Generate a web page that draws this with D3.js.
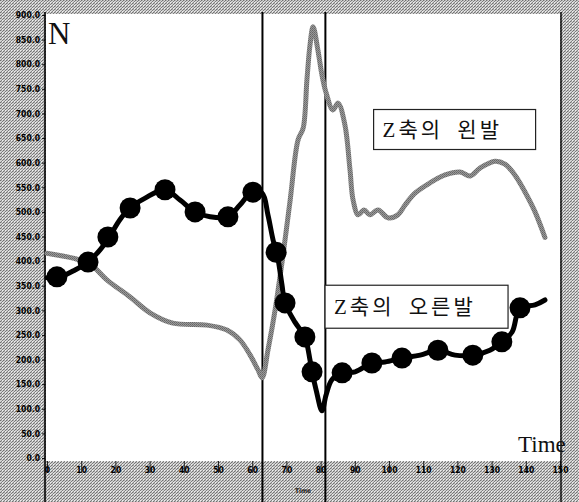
<!DOCTYPE html>
<html>
<head>
<meta charset="utf-8">
<script src="https://cdn.jsdelivr.net/npm/d3@7"></script>
<style>
  html, body { margin: 0; padding: 0; background: #fff; }
  svg { display: block; }
</style>
</head>
<body>
<svg id="chart" width="579" height="502"></svg>
<script>
// Vertical ground-reaction force (Z axis) over time, left and right foot
const leftTime  = [0, 7.6, 12.6, 17.5, 24.3, 30.1, 36.8, 46.8, 52.6, 56.4, 59.4, 61.7, 62.9, 64.6, 66.7, 69.0, 71.1, 73.4, 74.9, 76.0, 76.9, 77.8, 79.2, 80.4, 81.6, 83.6, 85.1, 87.1, 88.6, 89.5, 91.0, 92.7, 94.4, 96.8, 99.7, 102.6, 104.7, 107.6, 112.0, 116.4, 120.8, 123.7, 126.6, 131.0, 133.9, 136.8, 139.8, 142.7, 145.6];
const leftForce = [416, 406, 394, 362, 327, 295, 274, 270, 260, 240, 209, 179, 163, 219, 301, 412, 524, 646, 670, 768, 839, 876, 829, 778, 742, 707, 721, 677, 585, 524, 494, 504, 494, 504, 488, 494, 514, 538, 559, 575, 581, 573, 589, 603, 597, 575, 540, 500, 448];

const rightTime  = [0, 3.8, 8.2, 12.0, 15.5, 18.4, 21.3, 24.3, 28.7, 34.5, 38.9, 43.3, 47.7, 52.9, 56.4, 59.9, 62.9, 64.6, 66.1, 67.5, 68.7, 69.6, 72.5, 75.4, 76.9, 77.5, 78.7, 80.4, 81.6, 83.3, 86.3, 90.1, 95.0, 98.8, 103.8, 109.1, 114.3, 119.3, 124.6, 129.5, 133.0, 136.0, 138.3, 142.7, 145.6];
const rightForce = [366, 368, 382, 398, 423, 451, 484, 508, 528, 545, 524, 500, 490, 490, 514, 540, 538, 494, 443, 406, 352, 315, 276, 246, 199, 175, 138, 96, 128, 159, 173, 175, 193, 195, 203, 209, 219, 209, 209, 219, 236, 256, 305, 311, 321];

// Sample markers drawn on the right-foot curve
const markTime  = [2.9, 12.0, 17.8, 24.3, 34.5, 43.3, 52.9, 60.2, 67.0, 69.6, 75.4, 77.5, 86.3, 95.0, 103.8, 114.3, 124.5, 133.0, 138.3];
const markForce = [368, 398, 449, 508, 545, 500, 490, 540, 418, 315, 246, 175, 173, 193, 203, 219, 209, 236, 305];

// Phase boundaries
const phaseTimes = [63.0, 81.4];

const yTicks = d3.range(0, 901, 50);
const xTicks = d3.range(0, 151, 10);

const seriesLabels = [
  { text: "Z축의 왼발",  t: 95.5, v: 708, w: 162, h: 40 },
  { text: "Z축의 오른발", t: 81.3, v: 351, w: 183, h: 43 }
];

const W = 579, H = 502;
const plot = { left: 46, right: 560, top: 14, bottom: 461 };

const svg = d3.select("#chart");
const defs = svg.append("defs");

// dithered grey used for the frame and the left-foot trace
const dither = defs.append("pattern")
  .attr("id", "dither").attr("patternUnits", "userSpaceOnUse")
  .attr("width", 3).attr("height", 3);
dither.append("rect").attr("width", 3).attr("height", 3).attr("fill", "#d2d2d2");
dither.append("rect").attr("x", 0).attr("y", 0).attr("width", 1).attr("height", 1).attr("fill", "#707070");
dither.append("rect").attr("x", 2).attr("y", 1).attr("width", 1).attr("height", 1).attr("fill", "#7c7c7c");
dither.append("rect").attr("x", 1).attr("y", 2).attr("width", 1).attr("height", 1).attr("fill", "#848484");
dither.append("rect").attr("x", 1).attr("y", 0).attr("width", 1).attr("height", 1).attr("fill", "#b0b0b0");
dither.append("rect").attr("x", 2).attr("y", 2).attr("width", 1).attr("height", 1).attr("fill", "#eeeeee");

const grain = defs.append("pattern")
  .attr("id", "grain").attr("patternUnits", "userSpaceOnUse")
  .attr("width", 2).attr("height", 2);
grain.append("rect").attr("width", 2).attr("height", 2).attr("fill", "#999");
grain.append("rect").attr("width", 1).attr("height", 1).attr("fill", "#666");
grain.append("rect").attr("x", 1).attr("y", 1).attr("width", 1).attr("height", 1).attr("fill", "#747474");

// frame and white plotting area
svg.append("rect").attr("width", W).attr("height", H).attr("fill", "url(#dither)");
svg.append("rect")
  .attr("x", plot.left).attr("y", plot.top)
  .attr("width", plot.right - plot.left).attr("height", plot.bottom - plot.top)
  .attr("fill", "#fff");

const x = d3.scaleLinear().domain([0, 150]).range([47, 560]);
const y = d3.scaleLinear().domain([0, 900]).range([458, 15]);

// y axis
const yAxis = svg.append("g")
  .attr("transform", `translate(${plot.left - 1},0)`)
  .call(d3.axisLeft(y).tickValues(yTicks).tickFormat(d3.format(".1f")).tickSize(3).tickPadding(2));
yAxis.select(".domain").remove();
yAxis.selectAll("text")
  .attr("font-family", "DejaVu Sans Condensed, DejaVu Sans, sans-serif")
  .attr("font-weight", "bold").attr("font-size", 8.5).attr("fill", "#000");
yAxis.selectAll("line").attr("stroke", "#111");

// x axis
const xAxis = svg.append("g")
  .attr("transform", `translate(0,${plot.bottom})`)
  .call(d3.axisBottom(x).tickValues(xTicks).tickFormat(d3.format("d")).tickSize(12).tickPadding(-6));
xAxis.select(".domain").remove();
xAxis.selectAll("text")
  .attr("font-family", "DejaVu Sans Condensed, DejaVu Sans, sans-serif")
  .attr("font-weight", "bold").attr("font-size", 8.5).attr("fill", "#000");
xAxis.selectAll("line").attr("stroke", "#222").attr("stroke-width", 1);

// axis frame lines
svg.append("line").attr("x1", 45).attr("x2", 45).attr("y1", 12).attr("y2", H)
  .attr("stroke", "#000").attr("stroke-width", 1.6);
svg.append("line").attr("x1", 561).attr("x2", 561).attr("y1", 12).attr("y2", H)
  .attr("stroke", "#000").attr("stroke-width", 1.4);

// phase boundary lines
svg.selectAll(".phase").data(phaseTimes).enter().append("line")
  .attr("class", "phase")
  .attr("x1", d => x(d)).attr("x2", d => x(d))
  .attr("y1", 12).attr("y2", H)
  .attr("stroke", "#000").attr("stroke-width", 2);

const line = d3.line()
  .x(d => x(d[0])).y(d => y(d[1]))
  .curve(d3.curveCatmullRom.alpha(0.5));

// left foot
svg.append("path")
  .datum(d3.zip(leftTime, leftForce))
  .attr("d", line)
  .attr("fill", "none").attr("stroke", "url(#grain)")
  .attr("stroke-width", 5).attr("stroke-linejoin", "round").attr("stroke-linecap", "round");

// right foot
svg.append("path")
  .datum(d3.zip(rightTime, rightForce))
  .attr("d", line)
  .attr("fill", "none").attr("stroke", "#000")
  .attr("stroke-width", 5).attr("stroke-linejoin", "round").attr("stroke-linecap", "round");

svg.selectAll(".mark").data(d3.zip(markTime, markForce)).enter().append("circle")
  .attr("class", "mark")
  .attr("cx", d => x(d[0])).attr("cy", d => y(d[1]))
  .attr("r", 10.5).attr("fill", "#000");

// series labels in boxes
seriesLabels.forEach(s => {
  const bx = x(s.t), by = y(s.v);
  svg.append("rect")
    .attr("x", bx).attr("y", by).attr("width", s.w).attr("height", s.h)
    .attr("fill", "#fff").attr("stroke", "#222").attr("stroke-width", 1.2);
  svg.append("text")
    .attr("x", bx + 9).attr("y", by + s.h / 2 + 7)
    .attr("font-family", "Liberation Serif, Noto Sans CJK KR, serif")
    .attr("font-size", 21).attr("fill", "#111")
    .attr("letter-spacing", 3).attr("word-spacing", 6)
    .text(s.text);
});

// axis titles
svg.append("text").attr("x", 48).attr("y", 44)
  .attr("font-family", "Liberation Serif, serif").attr("font-size", 31)
  .attr("fill", "#111").text("N");
svg.append("text").attr("x", 518).attr("y", 452)
  .attr("font-family", "Liberation Serif, serif").attr("font-size", 23)
  .attr("fill", "#111").text("Time");
svg.append("text").attr("x", 295).attr("y", 493)
  .attr("font-family", "DejaVu Sans Condensed, sans-serif").attr("font-size", 6.5)
  .attr("font-weight", "bold").attr("fill", "#222").text("Time");
</script>
</body>
</html>
